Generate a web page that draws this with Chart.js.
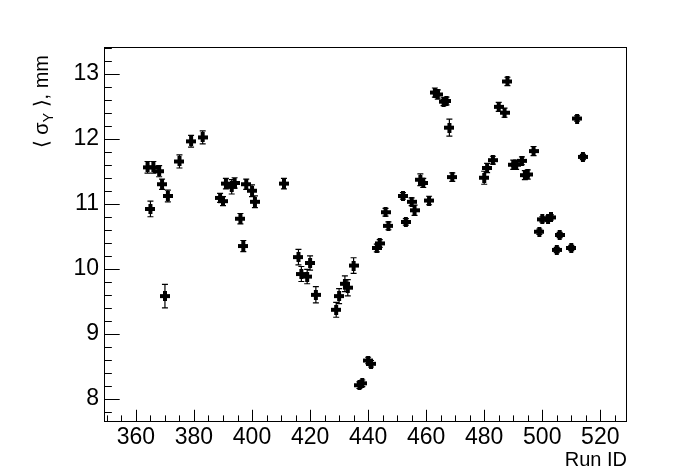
<!DOCTYPE html>
<html>
<head>
<meta charset="utf-8">
<script src="https://cdn.jsdelivr.net/npm/chart.js@4.4.0/dist/chart.umd.min.js"></script>
<style>
  html, body { margin: 0; padding: 0; background: #fff; }
  #wrap { width: 696px; height: 472px; }
</style>
</head>
<body>
<div id="wrap"><canvas id="sigmaChart" width="696" height="472"></canvas></div>
<script>
// Run numbers, mean sigma_Y (mm) and its error
const runs = [364, 365, 366, 368, 369, 370, 371, 375, 379, 383,
              389, 390, 391, 393, 394, 396, 397, 398, 400, 401,
              411, 416, 417, 419, 420, 422, 429, 430, 432, 433,
              435, 437, 438, 440, 441, 443, 444, 446, 447, 452,
              453, 455, 456, 458, 459, 461, 463, 464, 466, 467,
              468, 469, 480, 481, 483, 485, 487, 488, 490, 491,
              493, 494, 495, 497, 499, 500, 502, 503, 505, 506,
              510, 512, 514];
const sigmaY = [11.56, 10.92, 11.56, 11.50, 11.30, 9.58, 11.12, 11.65, 11.96, 12.02,
                11.09, 11.04, 11.31, 11.26, 11.32, 10.77, 10.35, 11.30, 11.20, 11.03,
                11.31, 10.18, 9.92, 9.88, 10.09, 9.60, 9.37, 9.58, 9.77, 9.71,
                10.05, 8.21, 8.24, 8.59, 8.54, 10.32, 10.39, 10.87, 10.66, 11.12,
                10.72, 11.03, 10.90, 11.37, 11.32, 11.05, 12.71, 12.68, 12.57, 12.58,
                12.17, 11.41, 11.40, 11.55, 11.67, 12.49, 12.40, 12.88, 11.60, 11.60,
                11.66, 11.44, 11.45, 11.81, 10.57, 10.76, 10.77, 10.79, 10.29, 10.52,
                10.32, 12.31, 11.72];
const sigmaErr = [0.09, 0.12, 0.09, 0.085, 0.08, 0.18, 0.09, 0.10, 0.09, 0.10,
                  0.07, 0.07, 0.08, 0.11, 0.08, 0.08, 0.085, 0.08, 0.09, 0.09,
                  0.08, 0.12, 0.115, 0.11, 0.11, 0.125, 0.115, 0.115, 0.12, 0.125,
                  0.12, 0.05, 0.05, 0.05, 0.05, 0.06, 0.06, 0.06, 0.06, 0.05,
                  0.05, 0.06, 0.08, 0.09, 0.07, 0.065, 0.07, 0.07, 0.06, 0.06,
                  0.13, 0.065, 0.10, 0.07, 0.06, 0.07, 0.07, 0.065, 0.07, 0.07,
                  0.06, 0.07, 0.07, 0.07, 0.04, 0.04, 0.04, 0.04, 0.04, 0.04,
                  0.04, 0.04, 0.04];

const xTicks = [360, 380, 400, 420, 440, 460, 480, 500, 520];
const yTicks = [8, 9, 10, 11, 12, 13];
const xMinorStep = 5;
const yMinorStep = 0.2;

const fuente = 'Liberation Sans, Arial, Helvetica, sans-serif';

// marcador tipo ROOT (cruz rellena)
function crearMarcador() {
    const c = document.createElement('canvas');
    c.width = 10; c.height = 10;
    const g = c.getContext('2d');
    g.fillStyle = '#000';
    g.fillRect(3, 0, 4, 10);
    g.fillRect(0, 3, 10, 4);
    return c;
}

// frame, inner ticks and error bars drawn like ROOT
const rootFrame = {
    id: 'rootFrame',
    beforeDatasetsDraw(chart) {
        const ctx = chart.ctx;
        const xs = chart.scales.x, ys = chart.scales.y;
        ctx.save();
        ctx.strokeStyle = '#000';
        ctx.lineWidth = 1.2;
        for (let i = 0; i < runs.length; i++) {
            const px = xs.getPixelForValue(runs[i]);
            const top = ys.getPixelForValue(sigmaY[i] + sigmaErr[i]);
            const bot = ys.getPixelForValue(sigmaY[i] - sigmaErr[i]);
            ctx.beginPath();
            ctx.moveTo(px, top); ctx.lineTo(px, bot);
            ctx.moveTo(px - 3, top); ctx.lineTo(px + 3, top);
            ctx.moveTo(px - 3, bot); ctx.lineTo(px + 3, bot);
            ctx.stroke();
        }
        ctx.restore();
    },
    afterDraw(chart) {
        const ctx = chart.ctx;
        const a = chart.chartArea;
        const xs = chart.scales.x, ys = chart.scales.y;
        const h = a.bottom - a.top, w = a.right - a.left;
        ctx.save();
        ctx.strokeStyle = '#000';
        ctx.lineWidth = 1;
        ctx.strokeRect(Math.round(a.left) + 0.5, Math.round(a.top) + 0.5,
                       Math.round(w) - 1, Math.round(h));

        ctx.beginPath();
        // x ticks
        const x0 = Math.ceil(xs.min / xMinorStep) * xMinorStep;
        for (let v = x0; v <= xs.max; v += xMinorStep) {
            const px = Math.round(xs.getPixelForValue(v)) + 0.5;
            const len = xTicks.includes(v) ? 0.03 * h : 0.015 * h;
            ctx.moveTo(px, a.bottom);
            ctx.lineTo(px, a.bottom - len);
        }
        // y ticks
        const y0 = Math.ceil(ys.min / yMinorStep - 1e-6) * yMinorStep;
        for (let v = y0; v <= ys.max + 1e-6; v += yMinorStep) {
            const py = Math.round(ys.getPixelForValue(v)) + 0.5;
            const mayor = yTicks.some(t => Math.abs(t - v) < 1e-6);
            const len = mayor ? 0.03 * w : 0.015 * w;
            ctx.moveTo(a.left, py);
            ctx.lineTo(a.left + len, py);
        }
        ctx.stroke();

        // y axis title with subscript
        const parts = [
            { t: '\u27E8 \u03C3', f: '20px ' + fuente, dy: 0 },
            { t: 'Y', f: '14px ' + fuente, dy: 5 },
            { t: ' \u27E9, mm', f: '20px ' + fuente, dy: 0 }
        ];
        let total = 0;
        parts.forEach(p => { ctx.font = p.f; p.w = ctx.measureText(p.t).width; total += p.w; });
        ctx.translate(48, a.top + 8);
        ctx.rotate(-Math.PI / 2);
        ctx.fillStyle = '#000';
        ctx.textBaseline = 'alphabetic';
        let cx = -total;
        parts.forEach(p => {
            ctx.font = p.f;
            ctx.fillText(p.t, cx, p.dy);
            cx += p.w;
        });
        ctx.restore();
    }
};

const ctx = document.getElementById('sigmaChart').getContext('2d');
const sigmaChart = new Chart(ctx, {
    type: 'scatter',
    data: {
        datasets: [{
            label: 'sigma Y',
            data: runs.map((r, i) => ({ x: r, y: sigmaY[i] })),
            pointStyle: crearMarcador(),
            pointRadius: 5,
            pointHoverRadius: 5
        }]
    },
    options: {
        responsive: false,
        animation: false,
        events: [],
        layout: { padding: { left: 0, top: 47, right: 69, bottom: 0 } },
        plugins: { legend: { display: false }, tooltip: { enabled: false } },
        scales: {
            x: {
                type: 'linear',
                min: 349,
                max: 529.2,
                afterFit(scale) { scale.height = 51; },
                afterBuildTicks(scale) { scale.ticks = xTicks.map(v => ({ value: v })); },
                grid: { display: false, drawTicks: false },
                border: { display: false },
                ticks: { color: '#000', font: { family: fuente, size: 23 }, padding: 3, maxRotation: 0 },
                title: {
                    display: true, text: 'Run ID', align: 'end', color: '#000',
                    font: { family: fuente, size: 20 }, padding: { top: 0, bottom: 0 }
                }
            },
            y: {
                type: 'linear',
                min: 7.66,
                max: 13.41,
                afterFit(scale) { scale.width = 104; },
                afterBuildTicks(scale) { scale.ticks = yTicks.map(v => ({ value: v })); },
                grid: { display: false, drawTicks: false },
                border: { display: false },
                ticks: { color: '#000', font: { family: fuente, size: 23 }, padding: 5 }
            }
        }
    },
    plugins: [rootFrame]
});
</script>
</body>
</html>
